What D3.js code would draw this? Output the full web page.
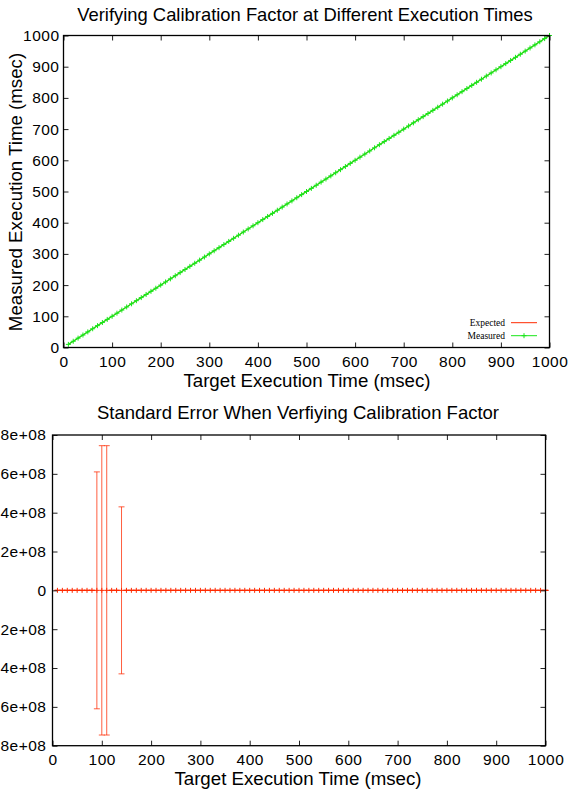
<!DOCTYPE html>
<html>
<head>
<meta charset="utf-8">
<script src="https://cdn.jsdelivr.net/npm/d3@7"></script>
<style>
  body { margin: 0; background: #fff; overflow: hidden; }
  svg { display: block; }
  text { font-family: "Liberation Sans", Arial, sans-serif; fill: #000; }
</style>
</head>
<body>
<div id="chart"></div>
<script>
// Target execution times (msec), one point every 10 msec
const targetTimes = [10, 20, 30, 40, 50, 60, 70, 80, 90, 100,
  110, 120, 130, 140, 150, 160, 170, 180, 190, 200,
  210, 220, 230, 240, 250, 260, 270, 280, 290, 300,
  310, 320, 330, 340, 350, 360, 370, 380, 390, 400,
  410, 420, 430, 440, 450, 460, 470, 480, 490, 500,
  510, 520, 530, 540, 550, 560, 570, 580, 590, 600,
  610, 620, 630, 640, 650, 660, 670, 680, 690, 700,
  710, 720, 730, 740, 750, 760, 770, 780, 790, 800,
  810, 820, 830, 840, 850, 860, 870, 880, 890, 900,
  910, 920, 930, 940, 950, 960, 970, 980, 990, 1000];

// Expected = target, measured sits right on top of it
const expectedTimes = [10, 20, 30, 40, 50, 60, 70, 80, 90, 100,
  110, 120, 130, 140, 150, 160, 170, 180, 190, 200,
  210, 220, 230, 240, 250, 260, 270, 280, 290, 300,
  310, 320, 330, 340, 350, 360, 370, 380, 390, 400,
  410, 420, 430, 440, 450, 460, 470, 480, 490, 500,
  510, 520, 530, 540, 550, 560, 570, 580, 590, 600,
  610, 620, 630, 640, 650, 660, 670, 680, 690, 700,
  710, 720, 730, 740, 750, 760, 770, 780, 790, 800,
  810, 820, 830, 840, 850, 860, 870, 880, 890, 900,
  910, 920, 930, 940, 950, 960, 970, 980, 990, 1000];

const measuredTimes = [10, 20, 30, 40, 50, 60, 70, 80, 90, 100,
  110, 120, 130, 140, 150, 160, 170, 180, 190, 200,
  210, 220, 230, 240, 250, 260, 270, 280, 290, 300,
  310, 320, 330, 340, 350, 360, 370, 380, 390, 400,
  410, 420, 430, 440, 450, 460, 470, 480, 490, 500,
  510, 520, 530, 540, 550, 560, 570, 580, 590, 600,
  610, 620, 630, 640, 650, 660, 670, 680, 690, 700,
  710, 720, 730, 740, 750, 760, 770, 780, 790, 800,
  810, 820, 830, 840, 850, 860, 870, 880, 890, 900,
  910, 920, 930, 940, 950, 960, 970, 980, 990, 1000];

// Standard error per target time (mean error is ~0 everywhere)
const errorMeans = [0, 0, 0, 0, 0, 0, 0, 0, 0, 0,
  0, 0, 0, 0, 0, 0, 0, 0, 0, 0,
  0, 0, 0, 0, 0, 0, 0, 0, 0, 0,
  0, 0, 0, 0, 0, 0, 0, 0, 0, 0,
  0, 0, 0, 0, 0, 0, 0, 0, 0, 0,
  0, 0, 0, 0, 0, 0, 0, 0, 0, 0,
  0, 0, 0, 0, 0, 0, 0, 0, 0, 0,
  0, 0, 0, 0, 0, 0, 0, 0, 0, 0,
  0, 0, 0, 0, 0, 0, 0, 0, 0, 0,
  0, 0, 0, 0, 0, 0, 0, 0, 0, 0];
const standardErrors = [0, 0, 0, 0, 0, 0, 0, 0, 6.1e8, 7.45e8,
  7.45e8, 0, 0, 4.3e8, 0, 0, 0, 0, 0, 0,
  0, 0, 0, 0, 0, 0, 0, 0, 0, 0,
  0, 0, 0, 0, 0, 0, 0, 0, 0, 0,
  0, 0, 0, 0, 0, 0, 0, 0, 0, 0,
  0, 0, 0, 0, 0, 0, 0, 0, 0, 0,
  0, 0, 0, 0, 0, 0, 0, 0, 0, 0,
  0, 0, 0, 0, 0, 0, 0, 0, 0, 0,
  0, 0, 0, 0, 0, 0, 0, 0, 0, 0,
  0, 0, 0, 0, 0, 0, 0, 0, 0, 0];

const xTicks = [0, 100, 200, 300, 400, 500, 600, 700, 800, 900, 1000];
const yTicksTop = [0, 100, 200, 300, 400, 500, 600, 700, 800, 900, 1000];
const yTicksBottom = [-8e8, -6e8, -4e8, -2e8, 0, 2e8, 4e8, 6e8, 8e8];

const RED = "#ff2a00";
const GREEN = "#19e619";

const W = 568, H = 793;
const svg = d3.select("#chart").append("svg").attr("width", W).attr("height", H);

// gnuplot-like frame: inward ticks, mirrored on top/right
function drawFrame(g, x, y, xt, yt, yFmt, yPad) {
    const [x0, x1] = x.range();
    const [y0, y1] = y.range();
    const tk = 5;
    const tickText = a => a.selectAll("text").style("font-size", "15.5px")
        .style("letter-spacing", "0.5px").attr("font-family", null);
    g.append("g").attr("transform", `translate(0,${y0})`)
        .call(d3.axisBottom(x).tickValues(xt).tickSize(-tk).tickPadding(8).tickFormat(d3.format("d")))
        .call(a => a.select(".domain").remove())
        .call(tickText);
    g.append("g").attr("transform", `translate(0,${y1})`)
        .call(d3.axisTop(x).tickValues(xt).tickSize(-tk).tickFormat(""))
        .call(a => a.select(".domain").remove());
    g.append("g").attr("transform", `translate(${x0},0)`)
        .call(d3.axisLeft(y).tickValues(yt).tickSize(-tk).tickPadding(yPad).tickFormat(yFmt))
        .call(a => a.select(".domain").remove())
        .call(tickText);
    g.append("g").attr("transform", `translate(${x1},0)`)
        .call(d3.axisRight(y).tickValues(yt).tickSize(-tk).tickFormat(""))
        .call(a => a.select(".domain").remove());
    g.selectAll(".tick line").attr("stroke", "#222");
    g.append("rect").attr("x", x0).attr("y", y1).attr("width", x1 - x0).attr("height", y0 - y1)
        .attr("fill", "none").attr("stroke", "#000").attr("stroke-width", 1.3);
}

function plusPath(cx, cy, s) {
    return `M${cx - s},${cy}H${cx + s}M${cx},${cy - s}V${cy + s}`;
}

// ---------- Top chart ----------
const topG = svg.append("g");
const xT = d3.scaleLinear().domain([0, 1000]).range([63.5, 549.5]);
const yT = d3.scaleLinear().domain([0, 1000]).range([347.5, 35.5]);

const ptsExpected = targetTimes.map((t, i) => ({ x: t, y: expectedTimes[i] }));
const ptsMeasured = targetTimes.map((t, i) => ({ x: t, y: measuredTimes[i] }));
const line = d3.line().x(d => xT(d.x)).y(d => yT(d.y));

topG.append("path").attr("d", line(ptsExpected)).attr("fill", "none").attr("stroke", RED).attr("stroke-width", 1);
topG.append("path").attr("d", line(ptsMeasured)).attr("fill", "none").attr("stroke", GREEN).attr("stroke-width", 1.3);
topG.append("path").attr("d", ptsMeasured.map(d => plusPath(xT(d.x), yT(d.y), 2.5)).join(""))
    .attr("fill", "none").attr("stroke", GREEN).attr("stroke-width", 1);

drawFrame(topG, xT, yT, xTicks, yTicksTop, d3.format("d"), 4);

topG.append("text").attr("x", 305).attr("y", 20.7).attr("text-anchor", "middle")
    .style("font-size", "18.4px").text("Verifying Calibration Factor at Different Execution Times");
topG.append("text").attr("x", 307).attr("y", 387).attr("text-anchor", "middle")
    .style("font-size", "18.7px").text("Target Execution Time (msec)");
topG.append("text").attr("transform", "translate(21.5,192) rotate(-90)").attr("text-anchor", "middle")
    .style("font-size", "18.7px").text("Measured Execution Time (msec)");

// legend
const legend = topG.append("g");
const legendItems = ["Expected", "Measured"];
const legendColors = [RED, GREEN];
legendItems.forEach((label, i) => {
    const ly = 322.7 + i * 13;
    legend.append("text").attr("x", 505).attr("y", ly + 3.3).attr("text-anchor", "end")
        .style("font-size", "9.5px").style("font-family", "'Liberation Serif', serif").text(label);
    legend.append("line").attr("x1", 511).attr("x2", 537).attr("y1", ly).attr("y2", ly)
        .attr("stroke", legendColors[i]).attr("stroke-width", 1);
    if (i === 1) {
        legend.append("path").attr("d", plusPath(524, ly, 2.5)).attr("stroke", GREEN).attr("fill", "none");
    }
});

// ---------- Bottom chart ----------
const botG = svg.append("g");
const xB = d3.scaleLinear().domain([0, 1000]).range([52.5, 545.5]);
const yB = d3.scaleLinear().domain([-8e8, 8e8]).range([745.7, 435]);

const errPts = targetTimes.map((t, i) => ({ x: t, m: errorMeans[i], e: standardErrors[i] }));
const capW = 3;
const bars = botG.append("g").attr("stroke", RED).attr("fill", "none").attr("stroke-width", 1);
bars.selectAll("path.err").data(errPts).enter().append("path").attr("class", "err")
    .attr("d", d => {
        const cx = xB(d.x), lo = yB(d.m - d.e), hi = yB(d.m + d.e);
        return `M${cx},${lo}V${hi}M${cx - capW},${hi}H${cx + capW}M${cx - capW},${lo}H${cx + capW}`;
    })
    .attr("stroke-opacity", d => d.e > 0 ? 0.75 : 1);
bars.selectAll("path.mark").data(errPts).enter().append("path").attr("class", "mark")
    .attr("d", d => plusPath(xB(d.x), yB(d.m), 2.5));

// gnuplot style exponent labels: 8e+08 (the minus of negatives falls off the left edge, as in the original)
const expFmt = v => v === 0 ? "0" : d3.format(".0e")(v).replace(/e([+-])(\d)$/, "e$10$2");
drawFrame(botG, xB, yB, xTicks, yTicksBottom, expFmt, 6);

botG.append("text").attr("x", 298).attr("y", 419).attr("text-anchor", "middle")
    .style("font-size", "18.5px").text("Standard Error When Verfiying Calibration Factor");
botG.append("text").attr("x", 298).attr("y", 785).attr("text-anchor", "middle")
    .style("font-size", "18.7px").text("Target Execution Time (msec)");
</script>
</body>
</html>
